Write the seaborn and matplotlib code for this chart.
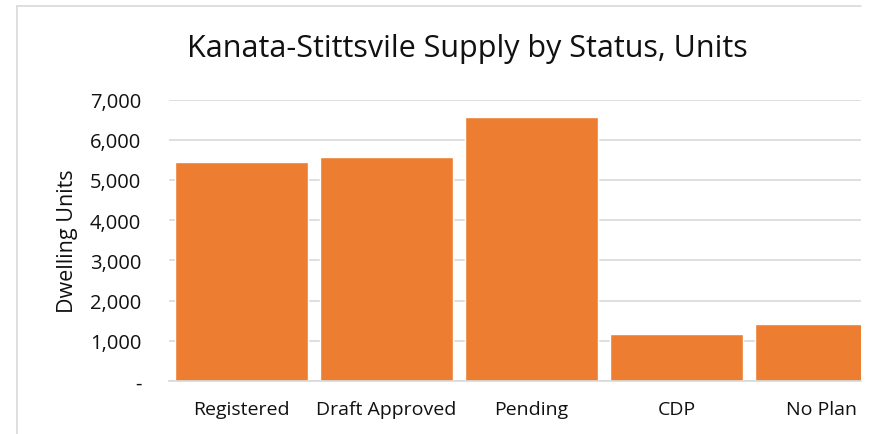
import matplotlib
matplotlib.use("Agg")
import matplotlib.pyplot as plt
import seaborn as sns
import pandas as pd
from matplotlib.lines import Line2D
from matplotlib.ticker import FuncFormatter

categories = ["Registered", "Draft Approved", "Pending", "CDP", "No Plan"]
units = [5450, 5560, 6570, 1180, 1415]
y_ticks = [0, 1000, 2000, 3000, 4000, 5000, 6000, 7000]
title = "Kanata-Stittsvile Supply by Status, Units"
y_label = "Dwelling Units"

sns.set_style("white")
plt.rcParams["font.family"] = ["Open Sans", "DejaVu Sans"]

W, H = 873, 435
fig = plt.figure(figsize=(W / 100, H / 100), dpi=100)
fig.patch.set_facecolor("white")

# axes: x from 169 to 861 px, y from 100.5 (7000) to 382 (0)
left, right = 169, 861
top, bottom = 100.5, 382
ax = fig.add_axes([left / W, 1 - bottom / H, (right - left) / W, (bottom - top) / H])

df = pd.DataFrame({"cat": categories, "val": units})
sns.barplot(data=df, x="cat", y="val", color="#ED7D31", saturation=1,
            width=0.917, ax=ax, zorder=3)

ax.set_xlim(-0.5, -0.5 + (right - left) / 145.0)
ax.set_ylim(0, 7000)
ax.set_yticks(y_ticks)
ax.yaxis.set_major_formatter(FuncFormatter(lambda v, p: "-" if v == 0 else f"{int(v):,}"))
ax.grid(axis="y", color="#D9D9D9", linewidth=1.2, zorder=0)
ax.set_axisbelow(True)
for s in ["top", "right", "left"]:
    ax.spines[s].set_visible(False)
ax.spines["bottom"].set_color("#D9D9D9")
ax.spines["bottom"].set_linewidth(1.2)
ax.spines["bottom"].set_zorder(4)
ax.tick_params(axis="y", length=0, labelsize=14.5, colors="#111111", pad=20)
ax.tick_params(axis="x", length=0, labelsize=14.0, colors="#111111", pad=14)
ax.set_xlabel("")
ax.set_ylabel(y_label, fontsize=15.5, color="#111111")
ax.yaxis.set_label_coords((78 - left) / (right - left), 0.5)

fig.text(467 / W, 1 - 49 / H, title, ha="center", va="center", fontsize=22, color="#111111")

# chart border (left and top visible)
fig.add_artist(Line2D([17 / W, 861 / W], [1 - 7 / H, 1 - 7 / H], color="#D9D9D9", linewidth=1.2))
fig.add_artist(Line2D([17 / W, 17 / W], [1 - 7 / H, 0], color="#D9D9D9", linewidth=1.2))

fig.savefig("out.png", dpi=100, facecolor="white")
